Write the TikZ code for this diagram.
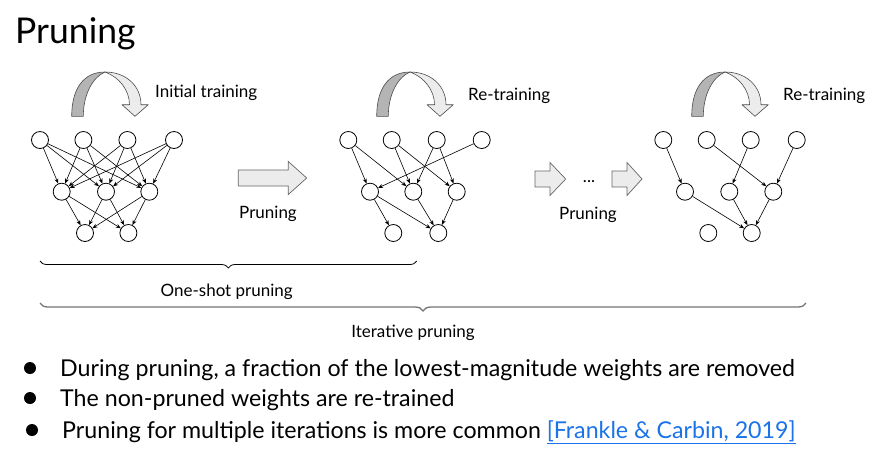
\documentclass[tikz,border=0pt]{standalone}
\usepackage{fontspec}
\setmainfont{Lato}
\usetikzlibrary{calc,positioning,arrows.meta,decorations.pathreplacing}
\definecolor{linkblue}{RGB}{26,115,232}
\definecolor{darkband}{RGB}{180,180,180}
\definecolor{lightband}{RGB}{236,236,236}
\definecolor{arrowfill}{RGB}{236,236,236}
\newcommand{\CurvedArrow}[1]% #1=x shift of the whole arrow
{\begin{scope}[xshift=#1]
  \draw [band, fill=darkband] (71.7,116.3) .. controls (71.7,88) and (84,72) .. (105,72)
        .. controls (93,77) and (83.3,94) .. (83.3,116.3) -- cycle;
  \draw [band, fill=lightband] (105,72) .. controls (126,72) and (141,86) .. (141,104.7)
        -- (148.3,104.7) -- (135,116.3) -- (122,104.7) -- (129.5,104.7)
        .. controls (129.5,90) and (119,77) .. (105,72) -- cycle;
 \end{scope}
}
\newcommand{\BlockArrow}[4]% #1=left x, #2=head x, #3=tip x, #4=centre y
{\draw [blockarrow] (#1,#4-8) -- (#2,#4-8) -- (#2,#4-16.5) -- (#3,#4)
        -- (#2,#4+16.5) -- (#2,#4+8) -- (#1,#4+8) -- cycle;
}
\tikzset{
  neuron/.style={circle, draw, line width=0.8pt, minimum size=17pt, inner sep=0pt},
  weight/.style={-{Stealth[length=5pt,width=4pt]}, line width=0.6pt},
  band/.style={draw=black!70, line width=0.6pt, line join=round},
  blockarrow/.style={draw=black!60, fill=arrowfill, line width=0.7pt},
  lbl/.style={inner sep=0pt, font=\fontsize{17}{20}\selectfont},
  bullettext/.style={inner sep=0pt, anchor=base west, font=\fontsize{23.2}{27}\selectfont},
  dot/.style={circle, fill, minimum size=12pt, inner sep=0pt}
}

\begin{document}
\begin{tikzpicture}[x=1pt, y=-1pt]
  \useasboundingbox (0,0) rectangle (872,451);

  \node [inner sep=0pt, anchor=base west, font=\fontsize{35.5}{40}\selectfont] (title) at (15,43.3) {Pruning};

  % first network, all weights
  \node [neuron] (a1) at (40,140) {};
  \node [neuron] (a2) at (83.4,140) {};
  \node [neuron] (a3) at (127.4,140) {};
  \node [neuron] (a4) at (174,140) {};
  \node [neuron] (b1) at (61.7,191.7) {};
  \node [neuron] (b2) at (106,191.7) {};
  \node [neuron] (b3) at (149.3,191.7) {};
  \node [neuron] (c1) at (85,233) {};
  \node [neuron] (c2) at (128.4,233) {};
  \foreach \s in {a1,a2,a3,a4}
    \foreach \t in {b1,b2,b3}
      \draw [weight] (\s) -- (\t);
  \foreach \s in {b1,b2,b3}
    \foreach \t in {c1,c2}
      \draw [weight] (\s) -- (\t);

  % second network, after one pruning
  \node [neuron] (d1) at (348.3,140) {};
  \node [neuron] (d2) at (391.7,140) {};
  \node [neuron] (d3) at (436.7,140) {};
  \node [neuron] (d4) at (481.7,140) {};
  \node [neuron] (e1) at (370,191.7) {};
  \node [neuron] (e2) at (413.3,191.7) {};
  \node [neuron] (e3) at (456.7,191.7) {};
  \node [neuron] (f1) at (393.3,233) {};
  \node [neuron] (f2) at (438.3,233) {};
  \draw [weight] (d1) -- (e1);
  \draw [weight] (d1) -- (e2);
  \draw [weight] (d2) -- (e2);
  \draw [weight] (d2) -- (e3);
  \draw [weight] (d3) -- (e2);
  \draw [weight] (d3) -- (e3);
  \draw [weight] (d4) -- (e1);
  \draw [weight] (e1) -- (f1);
  \draw [weight] (e1) -- (f2);
  \draw [weight] (e2) -- (f2);
  \draw [weight] (e3) -- (f2);

  % third network, after several prunings
  \node [neuron] (g1) at (663.3,140) {};
  \node [neuron] (g2) at (706.7,140) {};
  \node [neuron] (g3) at (750.7,140) {};
  \node [neuron] (g4) at (796.7,140) {};
  \node [neuron] (h1) at (685,191.7) {};
  \node [neuron] (h2) at (729.3,191.7) {};
  \node [neuron] (h3) at (773.3,191.7) {};
  \node [neuron] (i1) at (708.3,233) {};
  \node [neuron] (i2) at (751.7,233) {};
  \draw [weight] (g1) -- (h1);
  \draw [weight] (g2) -- (h3);
  \draw [weight] (g3) -- (h2);
  \draw [weight] (g4) -- (h3);
  \draw [weight] (h1) -- (i2);
  \draw [weight] (h2) -- (i2);
  \draw [weight] (h3) -- (i2);

  % training loops
  \CurvedArrow{0}
  \CurvedArrow{305}
  \CurvedArrow{620}
  \node [lbl, anchor=west] (init) at (155,93) {Initial training};
  \node [lbl, anchor=west] (retrain1) at (468,96) {Re-training};
  \node [lbl, anchor=west] (retrain2) at (783,96) {Re-training};

  % pruning steps
  \BlockArrow{238.3}{288.3}{306.7}{178}
  \BlockArrow{535}{550}{565.7}{179}
  \BlockArrow{612}{627}{642}{179}
  \node [lbl] (prune1) at (268,214) {Pruning};
  \node [lbl] (dots) at (589,182) {...};
  \node [lbl] (prune2) at (588,215) {Pruning};

  % braces
  \draw [decorate, decoration={brace, mirror, amplitude=7pt}, line width=0.8pt]
        (40,261) -- (416.7,261);
  \node [lbl] (oneshot) at (226.7,291.7) {One-shot pruning};
  \draw [decorate, decoration={brace, mirror, amplitude=8pt}, line width=1.3pt, draw=black!55]
        (40,303) -- (806,303);
  \node [lbl] (iterative) at (413,333) {Iterative pruning};

  % bullet points
  \node [dot] (p1) at (30,368) {};
  \node [dot] (p2) at (30,398) {};
  \node [dot] (p3) at (32,430) {};
  \node [bullettext] (t1) at (60,376) {During pruning, a fraction of the lowest-magnitude weights are removed};
  \node [bullettext] (t2) at (60,406) {The non-pruned weights are re-trained};
  \node [bullettext] (t3) at (62,438) {Pruning for multiple iterations is more common \textcolor{linkblue}{\underline{[Frankle \& Carbin, 2019]}}};
\end{tikzpicture}
\end{document}
